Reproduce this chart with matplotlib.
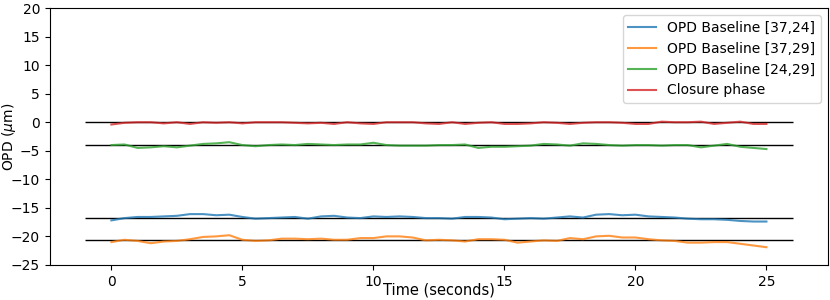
import numpy as np
import matplotlib
matplotlib.use('Agg')
import matplotlib.pyplot as plt

# time samples (seconds)
t = np.arange(0, 25.01, 0.5)

# OPD traces (micrometres)
opd_37_24 = [-17.2, -16.8, -16.6, -16.6, -16.5, -16.4, -16.1, -16.1, -16.3, -16.2,
             -16.6, -16.9, -16.8, -16.7, -16.6, -16.9, -16.5, -16.4, -16.7, -16.8,
             -16.5, -16.6, -16.5, -16.6, -16.8, -16.8, -16.9, -16.6, -16.6, -16.7,
             -17.0, -16.9, -16.8, -16.9, -16.7, -16.5, -16.7, -16.2, -16.1, -16.3,
             -16.2, -16.5, -16.6, -16.7, -16.9, -17.0, -17.0, -17.1, -17.3, -17.4,
             -17.4]
opd_37_29 = [-21.0, -20.6, -20.8, -21.2, -20.9, -20.8, -20.5, -20.1, -20.0, -19.8,
             -20.6, -20.8, -20.7, -20.4, -20.4, -20.5, -20.4, -20.6, -20.6, -20.3,
             -20.3, -20.0, -20.0, -20.2, -20.7, -20.6, -20.7, -20.9, -20.5, -20.5,
             -20.6, -21.1, -20.9, -20.7, -20.8, -20.3, -20.5, -20.0, -19.9, -20.2,
             -20.2, -20.5, -20.7, -20.8, -21.1, -21.1, -21.0, -21.0, -21.3, -21.6,
             -21.9]
opd_24_29 = [-4.0, -3.9, -4.5, -4.4, -4.2, -4.4, -4.1, -3.8, -3.7, -3.5,
             -4.0, -4.2, -4.0, -3.9, -4.0, -3.8, -3.9, -4.0, -3.9, -3.9,
             -3.6, -4.0, -4.1, -4.1, -4.1, -4.0, -4.0, -3.9, -4.5, -4.3,
             -4.3, -4.2, -4.1, -3.8, -3.9, -4.1, -3.7, -3.8, -4.0, -4.1,
             -4.0, -4.0, -4.1, -4.0, -4.0, -4.4, -4.1, -3.8, -4.3, -4.5,
             -4.7]
closure = [-0.4, -0.1, 0.0, 0.0, -0.2, 0.0, -0.3, 0.0, -0.1, 0.0,
           -0.2, 0.0, 0.0, 0.0, -0.1, -0.2, -0.1, -0.3, 0.0, -0.2,
           -0.3, 0.0, 0.0, 0.0, -0.2, -0.3, 0.0, -0.3, -0.1, 0.0,
           -0.3, -0.3, -0.2, 0.0, -0.1, -0.3, -0.1, 0.0, 0.0, -0.1,
           -0.3, -0.3, 0.1, 0.0, 0.0, 0.1, -0.3, -0.1, 0.1, -0.3,
           -0.3]

# mean levels drawn as black reference lines
means = [0, -4.0, -16.7, -20.6]

labels = ['OPD Baseline [37,24]', 'OPD Baseline [37,29]',
          'OPD Baseline [24,29]', 'Closure phase']
colors = ['tab:blue', 'tab:orange', 'tab:green', 'tab:red']

fig = plt.figure(figsize=(8.3, 3.0), dpi=100)
ax = fig.add_axes([0.06, 0.117, 0.9376, 0.856])

ax.hlines(means, -1, 26, colors='k', lw=1, zorder=1)

for y, lab, c in zip([opd_37_24, opd_37_29, opd_24_29, closure], labels, colors):
    ax.plot(t, y, color=c, lw=1.5, alpha=0.8, label=lab, zorder=2)

ax.set_ylim(-25, 20)
ax.set_xticks([0, 5, 10, 15, 20, 25])
ax.set_yticks(np.arange(-25, 21, 5))
ax.tick_params(labelsize=10)
ax.set_xlabel('Time (seconds)', fontsize=10.5)
ax.set_ylabel(r'OPD ($\mu$m)', fontsize=10)
ax.xaxis.set_label_coords(0.5, -0.068)
ax.yaxis.set_label_coords(-0.041, 0.5)
ax.legend(loc='upper right', fontsize=10)

plt.savefig('out.png', dpi=100)
